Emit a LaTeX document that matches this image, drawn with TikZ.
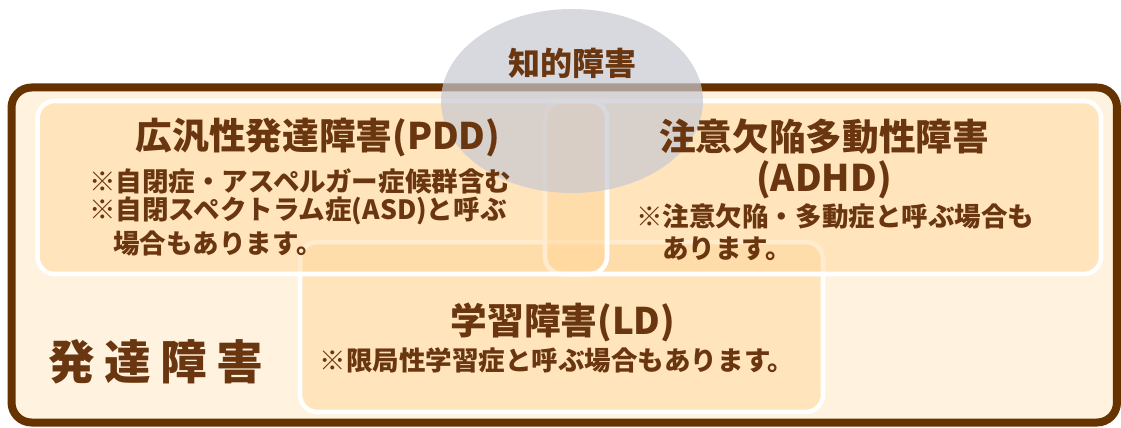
\documentclass[tikz,border=0pt]{standalone}
\usepackage{fontspec}
\setmainfont{Noto Sans CJK JP}
\usetikzlibrary{shapes.geometric}
\definecolor{brownline}{HTML}{663300}
\definecolor{txtbrown}{HTML}{6A3610}
\definecolor{cream}{HTML}{FFF2DF}
\definecolor{peach}{RGB}{255,214,150}
\definecolor{ellgray}{RGB}{200,200,210}
\tikzset{
  frame/.style={draw=brownline, line width=6pt, fill=cream, rounded corners=15pt, inner sep=0pt},
  areabox/.style={draw=white, line width=3.4pt, fill=peach, fill opacity=0.47, draw opacity=1, rounded corners=13pt, inner sep=0pt},
  idblob/.style={ellipse, fill=ellgray, fill opacity=0.7, inner sep=0pt, draw=none},
  bigtitle/.style={text=txtbrown, font=\fontsize{27.5pt}{30pt}\selectfont\bfseries, inner sep=0pt},
  midtitle/.style={text=txtbrown, font=\fontsize{24pt}{28pt}\selectfont\bfseries, inner sep=0pt},
  note/.style={text=txtbrown, font=\fontsize{19.9pt}{23pt}\selectfont\bfseries, inner sep=0pt},
}
\begin{document}
\begin{tikzpicture}[x=0.75pt,y=-0.75pt]
\useasboundingbox (0,0) rectangle (1121,428);
\node[frame, minimum width=829.1pt, minimum height=251.25pt] (frame) at (564.25,255) {};
\node[areabox, minimum width=392.25pt, minimum height=127.5pt] (ldbox) at (561.5,327) {};
\node[areabox, minimum width=417pt, minimum height=129.75pt] (adhdbox) at (823,187.5) {};
\node[areabox, minimum width=427.1pt, minimum height=129.75pt] (pddbox) at (322.25,187.5) {};
\node[idblob, minimum width=196.5pt, minimum height=138pt] (idblob) at (572,101) {};
\node[midtitle] (idt) at (572,63) {知的障害};
\node[bigtitle] (pddt) at (318,138) {広汎性発達障害(PDD)};
\node[note, anchor=west] (pdd1) at (89,181) {※自閉症・アスペルガー症候群含む};
\node[note, anchor=west] (pdd2) at (89,211) {※自閉スペクトラム症(ASD)と呼ぶ};
\node[note, anchor=west] (pdd3) at (113,243) {場合もあります。};
\node[bigtitle] (adhdt) at (824,137) {注意欠陥多動性障害};
\node[bigtitle] (adhdt2) at (824,180) {(ADHD)};
\node[note, anchor=west] (adhd1) at (636,216) {※注意欠陥・多動症と呼ぶ場合も};
\node[note, anchor=west] (adhd2) at (662,249) {あります。};
\node[bigtitle] (ldt) at (563,322) {学習障害(LD)};
\node[note] (ld1) at (557,360) {※限局性学習症と呼ぶ場合もあります。};
\node[text=txtbrown, font=\fontsize{35pt}{38pt}\selectfont\bfseries\addfontfeature{LetterSpace=20}, inner sep=0pt, anchor=west] (dev) at (48,362) {発達障害};
\end{tikzpicture}
\end{document}
